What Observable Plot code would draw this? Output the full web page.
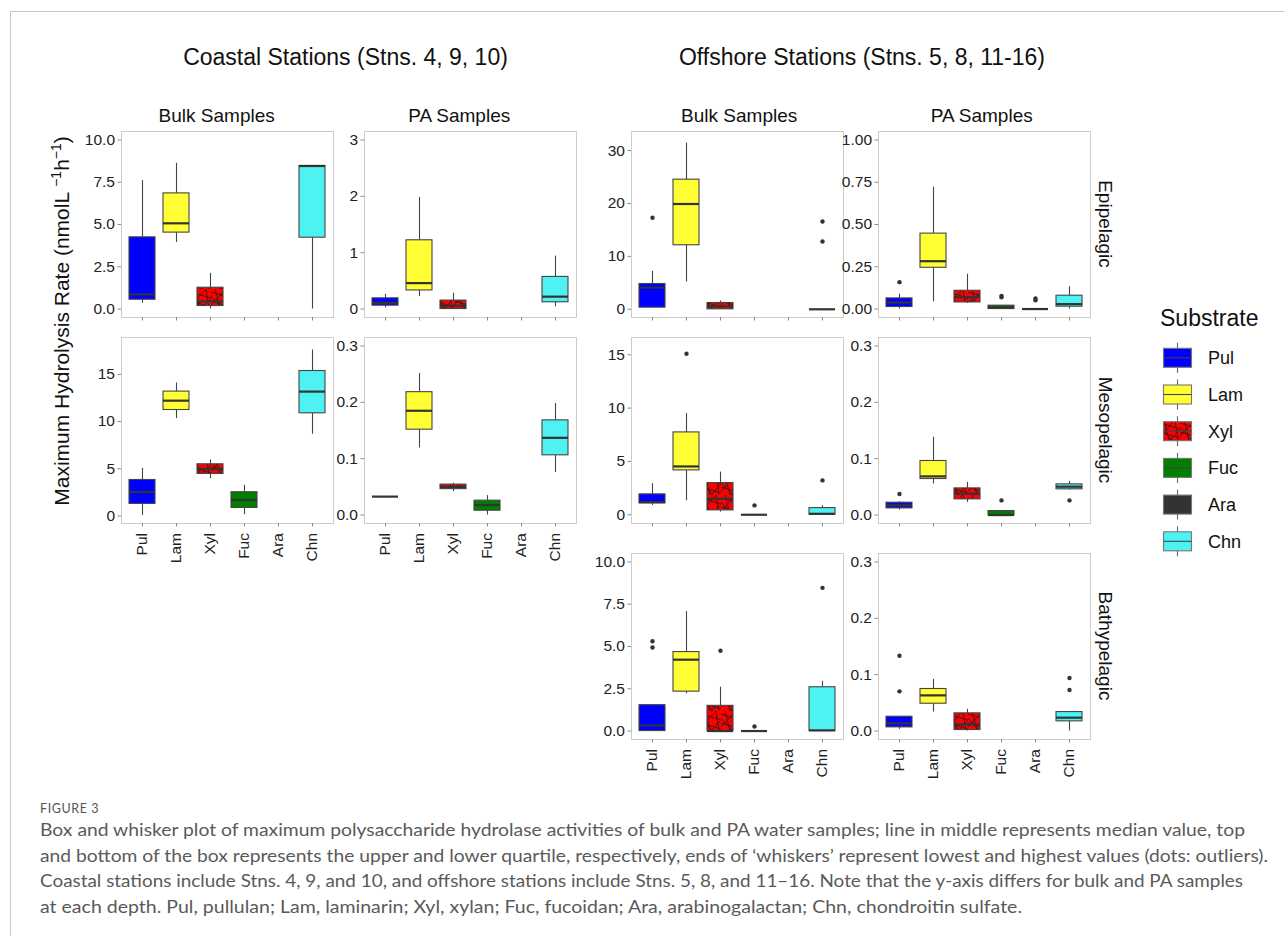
<!DOCTYPE html>
<html><head><meta charset="utf-8">
<script src="https://cdn.jsdelivr.net/npm/d3@7"></script>
<script src="https://cdn.jsdelivr.net/npm/@observablehq/plot@0.6"></script>
<style>
body{margin:0;background:#fff;}
#root{position:relative;width:1284px;height:936px;overflow:hidden;background:#fff;font-family:"Liberation Sans",Arial,sans-serif;}
#border{position:absolute;left:10px;top:11px;right:-2px;bottom:-2px;border-left:1px solid #c8c8c8;border-top:1px solid #c8c8c8;}
</style></head><body>
<svg width="0" height="0" style="position:absolute">
 <defs>
  <pattern id="xylPattern" patternUnits="userSpaceOnUse" width="20" height="20">
   <rect width="20" height="20" fill="#FF0000"/>
   <g stroke="#1a1a1a" stroke-width="0.8" fill="none">
    <line x1="0" y1="3" x2="20" y2="9"/>
    <line x1="4" y1="0" x2="9" y2="20"/>
    <line x1="0" y1="16" x2="15" y2="0"/>
    <line x1="10" y1="20" x2="20" y2="9"/>
    <line x1="15" y1="0" x2="18" y2="20"/>
    <line x1="0" y1="12" x2="20" y2="18"/>
    <line x1="0" y1="7" x2="12" y2="20"/>
   </g>
  </pattern>
 </defs>
</svg>
<div id="root"><div id="border"></div></div>
<script>
// ---------- data ----------
const substrates = ["Pul", "Lam", "Xyl", "Fuc", "Ara", "Chn"];
const substrateFills = ["#0000FF", "#FFFF33", "url(#xylPattern)", "#007F00", "#333333", "#4FF2F2"];
const depths = ["Epipelagic", "Mesopelagic", "Bathypelagic"];
// rows: [substrate, lower whisker, Q1, median, Q3, upper whisker, outliers]
const coastalBulkEpi = [
  ["Pul", 0.34, 0.55, 0.87, 4.24, 7.59, []],
  ["Lam", 3.94, 4.52, 5.07, 6.84, 8.62, []],
  ["Xyl", 0.0, 0.18, 0.45, 1.26, 2.11, []],
  ["Chn", 0.0, 4.22, 8.46, 8.46, 8.46, []]
];
const coastalPAEpi = [
  ["Pul", 0.02, 0.06, 0.11, 0.19, 0.26, []],
  ["Lam", 0.22, 0.33, 0.46, 1.22, 1.98, []],
  ["Xyl", 0.0, 0.0, 0.06, 0.15, 0.28, []],
  ["Chn", 0.04, 0.12, 0.22, 0.57, 0.94, []]
];
const offshoreBulkEpi = [
  ["Pul", 0.31, 0.31, 4.09, 4.78, 7.17, [17.3]],
  ["Lam", 5.16, 12.1, 19.9, 24.5, 31.4, []],
  ["Xyl", 0.0, 0.0, 0.57, 1.19, 1.57, []],
  ["Chn", 0.0, 0.0, 0.0, 0.0, 0.0, [12.8, 16.6]]
];
const offshorePAEpi = [
  ["Pul", 0.0, 0.012, 0.039, 0.063, 0.088, [0.159]],
  ["Lam", 0.043, 0.244, 0.283, 0.446, 0.721, []],
  ["Xyl", 0.033, 0.039, 0.07, 0.108, 0.206, []],
  ["Fuc", 0.0, 0.0, 0.01, 0.02, 0.02, [0.07, 0.078]],
  ["Ara", 0.0, 0.0, 0.0, 0.0, 0.0, [0.052, 0.062]],
  ["Chn", 0.0, 0.014, 0.029, 0.079, 0.132, []]
];
const coastalBulkMeso = [
  ["Pul", 0.04, 1.27, 2.54, 3.81, 5.05, []],
  ["Lam", 10.31, 11.22, 12.21, 13.17, 14.08, []],
  ["Xyl", 3.95, 4.45, 4.98, 5.47, 5.93, []],
  ["Fuc", 0.14, 0.85, 1.69, 2.51, 3.25, []],
  ["Chn", 8.65, 10.87, 13.17, 15.35, 17.58, []]
];
const coastalPAMeso = [
  ["Pul", 0.0327, 0.0327, 0.0327, 0.0327, 0.0327, []],
  ["Lam", 0.119, 0.1515, 0.185, 0.218, 0.251, []],
  ["Xyl", 0.042, 0.046, 0.05, 0.054, 0.0565, []],
  ["Fuc", 0.0, 0.0077, 0.0178, 0.0255, 0.0345, []],
  ["Chn", 0.0755, 0.106, 0.137, 0.168, 0.198, []]
];
const offshoreBulkMeso = [
  ["Pul", 0.875, 1.06, 1.19, 1.91, 2.91, []],
  ["Lam", 1.31, 4.16, 4.53, 7.72, 9.5, [15.1]],
  ["Xyl", 0.25, 0.41, 1.5, 2.97, 4.0, []],
  ["Fuc", 0.0, 0.0, 0.0, 0.0, 0.0, [0.875]],
  ["Chn", 0.0, 0.0, 0.09, 0.625, 0.84, [3.22]]
];
const offshorePAMeso = [
  ["Pul", 0.0089, 0.0118, 0.0172, 0.0219, 0.0237, [0.0373]],
  ["Lam", 0.055, 0.0639, 0.0686, 0.0959, 0.138, []],
  ["Xyl", 0.0225, 0.0278, 0.038, 0.0473, 0.058, []],
  ["Fuc", 0.0, 0.0, 0.0, 0.0071, 0.0071, [0.026]],
  ["Chn", 0.0444, 0.0456, 0.0503, 0.0544, 0.0598, [0.026]]
];
const offshoreBulkBathy = [
  ["Pul", 0.0, 0.0, 0.33, 1.53, 1.53, [4.94, 5.31]],
  ["Lam", 2.2, 2.33, 4.22, 4.67, 7.06, []],
  ["Xyl", 0.0, 0.0, 0.0, 1.49, 2.59, [4.75]],
  ["Fuc", 0.0, 0.0, 0.0, 0.0, 0.0, [0.27]],
  ["Chn", 0.0, 0.0, 0.04, 2.59, 2.94, [8.47]]
];
const offshorePABathy = [
  ["Pul", 0.003, 0.0065, 0.0136, 0.0254, 0.0254, [0.0704, 0.1337]],
  ["Lam", 0.0337, 0.0485, 0.0633, 0.0746, 0.0917, []],
  ["Xyl", 0.0, 0.0018, 0.0118, 0.0314, 0.0385, []],
  ["Chn", 0.0, 0.0172, 0.0237, 0.0337, 0.0337, [0.0728, 0.094]]
];
const ticks10 = [0, 2.5, 5, 7.5, 10];
const ticks3 = [0, 1, 2, 3];
const ticks30 = [0, 10, 20, 30];
const ticks1 = [0, 0.25, 0.5, 0.75, 1];
const ticks15 = [0, 5, 10, 15];
const ticks03 = [0, 0.1, 0.2, 0.3];

const titleCoastal = "Coastal Stations (Stns. 4, 9, 10)";
const titleOffshore = "Offshore Stations (Stns. 5, 8, 11-16)";
const captionHead = "FIGURE 3";
const captionLines = [
  "Box and whisker plot of maximum polysaccharide hydrolase activities of bulk and PA water samples; line in middle represents median value, top",
  "and bottom of the box represents the upper and lower quartile, respectively, ends of \u2018whiskers\u2019 represent lowest and highest values (dots: outliers).",
  "Coastal stations include Stns. 4, 9, and 10, and offshore stations include Stns. 5, 8, and 11\u201316. Note that the y-axis differs for bulk and PA samples",
  "at each depth. Pul, pullulan; Lam, laminarin; Xyl, xylan; Fuc, fucoidan; Ara, arabinogalactan; Chn, chondroitin sulfate."
];

// ---------- layout ----------
const FONT = "'Liberation Sans', Arial, sans-serif";
const colLeft = [121, 364, 631, 878];
const rowTop = [131, 337, 553];
const PW = 212, PH = 186;
const root = document.getElementById("root");

function panel(rows, col, row, domain, ticks, fmt, showX) {
  const data = rows.map(([s, lo, q1, med, q3, hi, out]) => ({s, lo, q1, med, q3, hi, out}));
  const outs = data.flatMap(d => d.out.map(v => ({s: d.s, v})));
  const mL = 50, mR = 2, mT = 2, mB = showX ? 60 : 10;
  const p = Plot.plot({
    width: PW + mL + mR, height: PH + mT + mB,
    marginLeft: mL, marginRight: mR, marginTop: mT, marginBottom: mB,
    style: {fontFamily: FONT, fontSize: "15.5px", color: "#222", background: "transparent", overflow: "visible"},
    x: {type: "band", domain: substrates, paddingInner: 0.25, paddingOuter: 0.225, label: null},
    y: {domain, label: null},
    color: {type: "ordinal", domain: substrates, range: substrateFills},
    marks: [
      Plot.frame({stroke: "#cccccc"}),
      Plot.ruleX(data, {x: "s", y1: "lo", y2: "q1", stroke: "#444", strokeWidth: 1.1}),
      Plot.ruleX(data, {x: "s", y1: "q3", y2: "hi", stroke: "#444", strokeWidth: 1.1}),
      Plot.barY(data, {x: "s", y1: "q1", y2: "q3", fill: "s", stroke: "#444", strokeWidth: 1.1}),
      Plot.tickY(data, {x: "s", y: "med", stroke: "#333", strokeWidth: 2.2}),
      Plot.dot(outs, {x: "s", y: "v", r: 2.2, fill: "#333", stroke: "none"}),
      Plot.axisY({ticks, tickFormat: fmt, tickSize: 3.5, tickPadding: 3, stroke: "#8a8a8a", fill: "#222", label: null}),
      Plot.axisX({tickSize: 3.5, tickPadding: 6, tickRotate: -90, stroke: "#8a8a8a", fill: "#222", label: null,
                  tickFormat: showX ? (d => d) : (() => "")})
    ]
  });
  p.style.position = "absolute";
  p.style.left = (colLeft[col] - mL) + "px";
  p.style.top = (rowTop[row] - mT) + "px";
  root.appendChild(p);
}

const f1 = d3.format(".1f"), f2 = d3.format(".2f"), f0 = d3.format("d");
panel(coastalBulkEpi, 0, 0, [-0.5, 10.5], ticks10, f1, false);
panel(coastalPAEpi, 1, 0, [-0.15, 3.15], ticks3, f0, false);
panel(offshoreBulkEpi, 2, 0, [-1.55, 33.6], ticks30, f0, false);
panel(offshorePAEpi, 3, 0, [-0.05, 1.05], ticks1, f2, false);
panel(coastalBulkMeso, 0, 1, [-0.8, 18.9], ticks15, f0, true);
panel(coastalPAMeso, 1, 1, [-0.015, 0.315], ticks03, f1, true);
panel(offshoreBulkMeso, 2, 1, [-0.82, 16.62], ticks15, f0, false);
panel(offshorePAMeso, 3, 1, [-0.015, 0.315], ticks03, f1, false);
panel(offshoreBulkBathy, 2, 2, [-0.5, 10.5], ticks10, f1, true);
panel(offshorePABathy, 3, 2, [-0.015, 0.315], ticks03, f1, true);

// ---------- overlay texts, legend, caption ----------
const svg = d3.select(root).append("svg")
  .attr("width", 1284).attr("height", 936)
  .style("position", "absolute").style("left", 0).style("top", 0)
  .style("pointer-events", "none").style("font-family", FONT);

svg.append("text").attr("x", 345.5).attr("y", 65).attr("text-anchor", "middle")
  .attr("font-size", 23).attr("fill", "#111").text(titleCoastal);
svg.append("text").attr("x", 862).attr("y", 65).attr("text-anchor", "middle")
  .attr("font-size", 23).attr("fill", "#111").text(titleOffshore);

const headers = [["Bulk Samples", 216.7], ["PA Samples", 459.2], ["Bulk Samples", 739.2], ["PA Samples", 981.7]];
headers.forEach(([t, x]) => svg.append("text").attr("x", x).attr("y", 122)
  .attr("text-anchor", "middle").attr("font-size", 19).attr("fill", "#111").text(t));

depths.forEach((t, i) => {
  const cy = rowTop[i] + PH / 2;
  svg.append("text").attr("transform", `translate(1099,${cy}) rotate(90)`)
    .attr("text-anchor", "middle").attr("font-size", 19).attr("fill", "#111").text(t);
});

const yt = svg.append("text").attr("transform", "translate(69,321) rotate(-90)")
  .attr("text-anchor", "middle").attr("font-size", 21).attr("fill", "#111");
yt.append("tspan").text("Maximum Hydrolysis Rate (nmolL ");
yt.append("tspan").attr("font-size", 14).attr("dy", -8).text("\u22121");
yt.append("tspan").attr("dy", 8).text("h");
yt.append("tspan").attr("font-size", 14).attr("dy", -8).text("\u22121");
yt.append("tspan").attr("dy", 8).text(")");

// legend
svg.append("text").attr("x", 1160).attr("y", 326).attr("font-size", 23).attr("fill", "#111").text("Substrate");
substrates.forEach((s, i) => {
  const cy = 357.8 + i * 36.7;
  const g = svg.append("g");
  g.append("line").attr("x1", 1177.5).attr("x2", 1177.5).attr("y1", cy - 15).attr("y2", cy + 15)
    .attr("stroke", "#666").attr("stroke-width", 1.1);
  g.append("rect").attr("x", 1163.5).attr("y", cy - 9.5).attr("width", 28).attr("height", 19)
    .attr("fill", substrateFills[i]).attr("stroke", "#777").attr("stroke-width", 1.1);
  if (s !== "Ara") g.append("line").attr("x1", 1163.5).attr("x2", 1191.5).attr("y1", cy).attr("y2", cy)
    .attr("stroke", "#444").attr("stroke-width", 1.1);
  svg.append("text").attr("x", 1208).attr("y", cy + 6.4).attr("font-size", 18).attr("fill", "#111").text(s);
});

// caption
svg.append("text").attr("x", 40).attr("y", 813).attr("font-family", "Lato, 'Open Sans', sans-serif")
  .attr("font-size", 12.5).attr("letter-spacing", 0.6).attr("fill", "#555").text(captionHead);
const capTargets = [1205, 1228, 1203, 982];
captionLines.forEach((t, i) => {
  svg.append("text").attr("x", 40).attr("y", 836 + i * 25.6)
    .attr("font-family", "Lato, 'Open Sans', sans-serif").attr("font-size", 17.5)
    .attr("fill", "#5a5a5a").attr("textLength", capTargets[i]).attr("lengthAdjust", "spacingAndGlyphs")
    .text(t);
});
</script>
</body></html>
